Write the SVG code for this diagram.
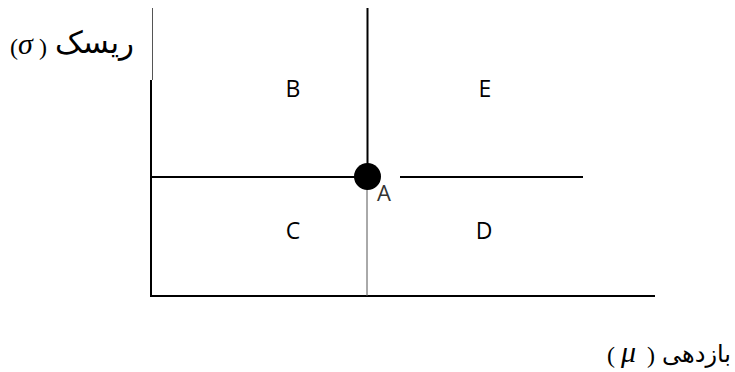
<svg xmlns="http://www.w3.org/2000/svg" width="735" height="372" viewBox="0 0 735 372">
<style>
.ln{stroke:#000;stroke-width:2;fill:none}
.thin{stroke:#555;stroke-width:1;fill:none}
.lbl{font-family:"Open Sans","Liberation Sans",sans-serif;font-size:23px;fill:#000;text-anchor:middle}
.fa{font-family:"DejaVu Sans","Noto Sans",sans-serif;font-size:26px;fill:#000;text-anchor:end}
.gr{font-family:"Liberation Serif",serif;font-style:italic;font-size:30px;fill:#000}
.par{font-family:"Liberation Serif",serif;font-size:24px;fill:#000}
</style>
<rect width="735" height="372" fill="#fff"/>
<g id="connectors">
<line class="thin" x1="152.5" y1="8" x2="152.5" y2="80"/>
<line class="ln" x1="151" y1="80" x2="151" y2="297"/>
<line class="ln" x1="150" y1="296" x2="655" y2="296"/>
<line class="ln" x1="367.5" y1="8" x2="367.5" y2="170"/>
<line class="thin" x1="367" y1="180" x2="367" y2="296"/>
<line class="ln" x1="151" y1="177" x2="362" y2="177"/>
<line class="ln" x1="400" y1="177" x2="583" y2="177"/>
</g>
<g id="nodeA">
<circle cx="367.5" cy="176.5" r="13.5" fill="#000"/>
<text x="384" y="201" class="lbl" style="fill:#333;font-size:22px">A</text>
</g>
<g id="nodeB"><text x="293" y="97" class="lbl">B</text></g>
<g id="nodeE"><text x="485" y="97" class="lbl">E</text></g>
<g id="nodeC"><text x="293" y="239" class="lbl">C</text></g>
<g id="nodeD"><text x="484" y="239" class="lbl">D</text></g>
<g id="ylabel">
<text x="10" y="55" class="par">(</text>
<text x="18" y="54" class="gr">σ</text>
<text x="39" y="55" class="par">)</text>
<text x="134" y="53" class="fa" style="font-size:31px">ریسک</text>
</g>
<g id="xlabel">
<text x="607" y="363" class="par">(</text>
<text x="621" y="362" class="gr">μ</text>
<text x="647" y="363" class="par">)</text>
<text x="731" y="362" class="fa" style="font-size:24px">بازدهی</text>
</g>
</svg>
